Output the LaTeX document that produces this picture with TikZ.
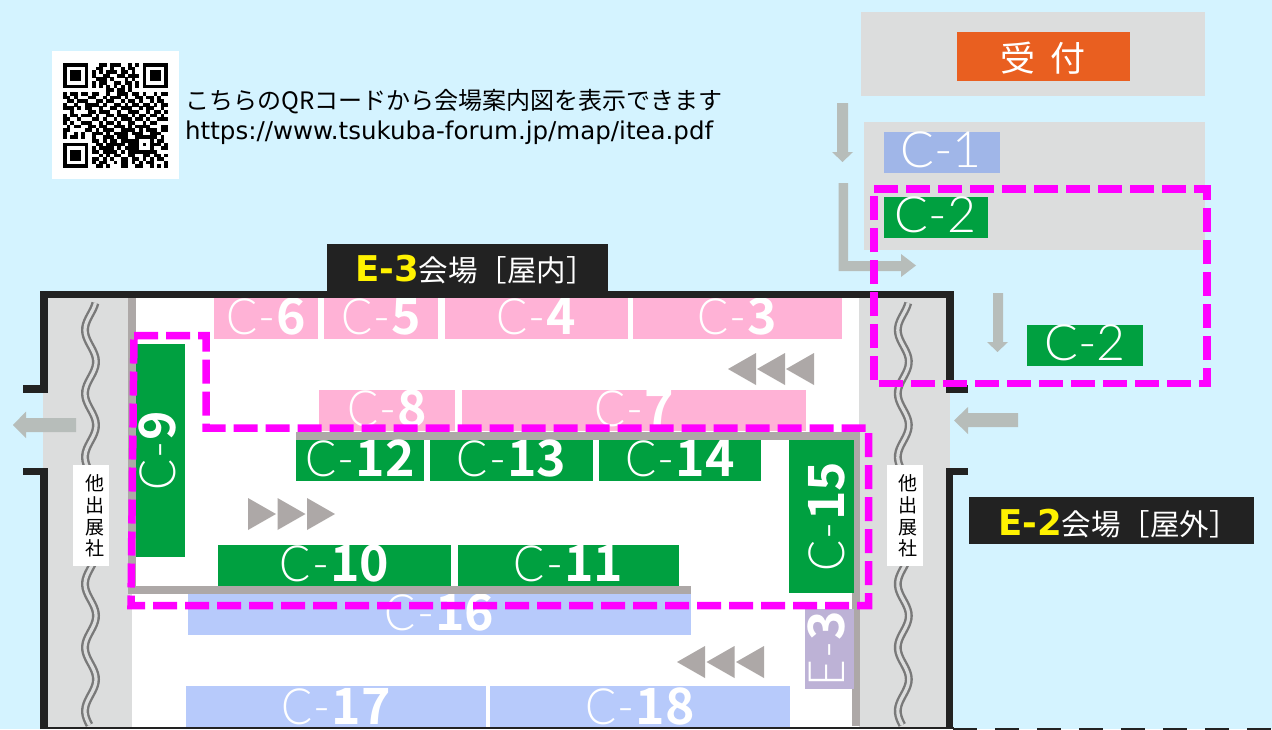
\documentclass[tikz,border=0pt]{standalone}
\usepackage{fontspec}
\setmainfont{Noto Sans CJK JP}
\newfontfamily\thinf[FakeStretch=0.92]{Lato Light}
\newfontfamily\thinw{Lato Light}
\newfontfamily\boldf{Noto Sans CJK JP Bold}
\newfontfamily\urlf{DejaVu Sans}
\definecolor{sky}{HTML}{D4F3FF}
\definecolor{hall}{HTML}{DCDDDD}
\definecolor{wall}{HTML}{ADA8A7}
\definecolor{ink}{HTML}{222222}
\definecolor{arrowg}{HTML}{B7BDBA}
\definecolor{orng}{HTML}{E95F20}
\definecolor{grn}{HTML}{00A040}
\definecolor{pnk}{HTML}{FFB2D6}
\definecolor{blu}{HTML}{B7CAFB}
\definecolor{blud}{HTML}{A0B6E8}
\definecolor{prp}{HTML}{BDB2D6}
\definecolor{mag}{HTML}{FF00FF}
\tikzset{
  hallfill/.style={fill=hall},
  wallfill/.style={fill=wall},
  inkfill/.style={fill=ink},
  arrowfill/.style={fill=arrowg},
  tri/.style={fill=wall},
  route/.style={draw=mag,line width=7.5pt,dash pattern=on 24pt off 8pt,line cap=butt},
  ztext/.style={inner sep=0pt,text=white,text depth=0pt},
  vlabel/.style={inner sep=0pt,text=black,align=center,font=\fontsize{19}{21.8}\selectfont},
  wavy/.style={draw=gray!95!black,line width=8pt},
  wavyin/.style={draw=hall,line width=3.2pt},
  hallname/.style={anchor=base west,inner sep=0pt,text=white,font=\fontsize{29.5}{30}\selectfont}
}
\newcommand{\zlabel}[2]{{\thinf\fontsize{50}{50}\selectfont C}\kern1pt{\thinf\fontsize{50}{50}\selectfont -}\kern1pt{\boldf\fontsize{50}{50}\selectfont #2}}
\newcommand{\hzone}[7]{% name x1 y1 x2 y2 color content
  \fill[#6] (#2,#3) rectangle (#4,#5);
  \node[ztext,anchor=base] (#1) at ({(#2+#4)/2},{#5-5}) {#7};}
\newcommand{\vzone}[7]{% name x1 y1 x2 y2 color content
  \fill[#6] (#2,#3) rectangle (#4,#5);
  \node[ztext,anchor=base,rotate=90] (#1) at ({#4-10},{(#3+#5)/2}) {#7};}
\newcommand{\thinlabel}[1]{{\thinw\fontsize{50}{50}\selectfont #1}}
\newcommand{\eyellow}[1]{{\urlf\bfseries\fontsize{35.5}{36}\selectfont\textcolor{yellow}{#1}}}
\newcount\qx
\def\qrparse#1{\ifx#1;\else\if#11\fill[black] ({63+3.62*\the\qx},{63+3.62*\qrow}) rectangle ++(3.7,3.7);\fi\advance\qx by 1 \expandafter\qrparse\fi}
\newcommand{\qrrow}[2]{\def\qrow{#1}\qx=0 \qrparse#2;}
\begin{document}
\begin{tikzpicture}[x=1pt,y=-1pt]
\useasboundingbox (0,0) rectangle (1272,729);
\clip (0,0) rectangle (1272,729);
\fill[sky] (0,0) rectangle (1272,729);
% reception block
\fill[hallfill] (861,12) rectangle (1205,96);
\fill[hallfill] (864,122) rectangle (1205,250);
\fill[orng] (957,32) rectangle (1130,81);
\node[inner sep=0pt,text=white,font=\fontsize{35}{35}\selectfont] (uketsuke) at (1043,58) {受\kern15pt 付};
\fill[blud] (884,132) rectangle (1000,173);
\node[ztext,anchor=base] (c1) at (941,167) {\thinlabel{C-1}};
\fill[grn] (884,197) rectangle (988,238);
\node[ztext,anchor=base] (c2a) at (935.5,232) {\thinlabel{C-2}};
\fill[grn] (1027,325) rectangle (1143,366);
\node[ztext,anchor=base] (c2b) at (1085,360) {\thinlabel{C-2}};
% flow arrows outside
\fill[arrowfill] (837,103) -- (848,103) -- (848,152) -- (853,152) -- (842.5,162) -- (832,152) -- (837,152) -- cycle;
\fill[arrowfill] (838.5,183) -- (848,183) -- (848,261) -- (901,261) -- (901,254) -- (916,265.5) -- (901,277) -- (901,271) -- (838.5,271) -- cycle;
\fill[arrowfill] (993,293) -- (1003,293) -- (1003,342) -- (1008,342) -- (997.5,352) -- (987,342) -- (993,342) -- cycle;
% QR
\fill[white] (52,51) rectangle (179,179);
\qrrow{0}{11111110001101110010101111111}
\qrrow{1}{10000010011001001011001000001}
\qrrow{2}{10111010101011101101001011101}
\qrrow{3}{10111010100110011011101011101}
\qrrow{4}{10111010011101000101001011101}
\qrrow{5}{10000010101100110110101000001}
\qrrow{6}{11111110101010101010101111111}
\qrrow{7}{00000000000011011010000000000}
\qrrow{8}{10110110110010011101101001011}
\qrrow{9}{11010001100101110100110110100}
\qrrow{10}{01101110011011001011010010110}
\qrrow{11}{10010011110100110101101101011}
\qrrow{12}{11101011001001101110010110010}
\qrrow{13}{00100001101110010011100101101}
\qrrow{14}{10110111010011011101011011010}
\qrrow{15}{11001000110100101110110100111}
\qrrow{16}{10100111001011010011001011000}
\qrrow{17}{01011001101100111010111100011}
\qrrow{18}{11000011010111001111010111011}
\qrrow{19}{10010100111010111101110011100}
\qrrow{20}{10110100100111011100111111010}
\qrrow{21}{00000000110101101111100010110}
\qrrow{22}{11111110011011111011101011101}
\qrrow{23}{10000010101111010111100010011}
\qrrow{24}{10111010110111101011111111000}
\qrrow{25}{10111010001010110011001101101}
\qrrow{26}{10111010110101001101101010110}
\qrrow{27}{10000010101100101101010110001}
\qrrow{28}{11111110011010001100110010101}
\node[anchor=west,inner sep=0pt,text=black,font=\fontsize{24}{25}\selectfont] (qrline) at (185,102) {こちらのQRコードから会場案内図を表示できます};
\node[anchor=west,inner sep=0pt,text=black,font=\urlf\fontsize{24.5}{25}\selectfont] (qrurl) at (185,133) {https://www.tsukuba-forum.jp/map/itea.pdf};
% building
\fill[white] (48,298) rectangle (946,729);
\fill[hallfill] (48,298) rectangle (132,729);
\fill[hallfill] (43,392) rectangle (48,468);
\fill[hallfill] (859,298) rectangle (946,729);
\fill[hallfill] (946,392) rectangle (950,468);
% zones
\hzone{c6}{214}{298}{318}{339}{pnk}{\zlabel{}{6}}
\hzone{c5}{324}{298}{438}{339}{pnk}{\zlabel{}{5}}
\hzone{c4}{445}{298}{628}{339}{pnk}{\zlabel{}{4}}
\hzone{c3}{633}{298}{842}{339}{pnk}{\zlabel{}{3}}
\hzone{c8}{319}{390}{455}{431}{pnk}{\zlabel{}{8}}
\hzone{c7}{462}{390}{806}{431}{pnk}{\zlabel{}{7}}
\hzone{c16}{188}{594}{691}{635}{blu}{\zlabel{}{16}}
\hzone{c17}{186}{686}{486}{729}{blu}{\zlabel{}{17}}
\hzone{c18}{490}{686}{790}{729}{blu}{\zlabel{}{18}}
% gray partitions
\fill[wallfill] (128,298) rectangle (135.5,594);
\fill[wallfill] (128,586) rectangle (691,594);
\fill[wallfill] (296,432) rectangle (860,440);
\fill[wallfill] (852,432) rectangle (860,726);
\hzone{c12}{296}{440}{424}{481}{grn}{\zlabel{}{12}}
\hzone{c13}{430}{440}{593}{481}{grn}{\zlabel{}{13}}
\hzone{c14}{599}{440}{761}{481}{grn}{\zlabel{}{14}}
\hzone{c10}{218}{545}{451}{586}{grn}{\zlabel{}{10}}
\hzone{c11}{458}{545}{679}{586}{grn}{\zlabel{}{11}}
\vzone{c9}{136}{344}{185}{557}{grn}{\zlabel{}{9}}
\vzone{c15}{789}{440}{854}{593}{grn}{\zlabel{}{15}}
\vzone{e3}{805}{609}{854}{689}{prp}{{\thinf\fontsize{50}{50}\selectfont E}\kern1pt{\thinf\fontsize{50}{50}\selectfont -}\kern1pt{\boldf\fontsize{50}{50}\selectfont 3}}
% direction triangles
\foreach \tx in {728,757,786} \fill[tri] (\tx,369) -- (\tx+28,353) -- (\tx+28,385) -- cycle;
\foreach \tx in {248,277.5,307} \fill[tri] (\tx,498) -- (\tx+28,514) -- (\tx,530) -- cycle;
\foreach \tx in {677,706.5,736} \fill[tri] (\tx,662) -- (\tx+28,646) -- (\tx+28,678) -- cycle;
% wavy lines
\foreach \cx in {90.5,903.3} {
  \draw[wavy] plot[domain=303:725,samples=140,smooth] ({\cx-5.5*cos((\x-330)/63.5*360)},\x);
  \draw[wavyin] plot[domain=303:725,samples=140,smooth] ({\cx-5.5*cos((\x-330)/63.5*360)},\x);
}
\fill[white] (73,465) rectangle (109,566);
\node[vlabel] (oth1) at (94.5,516) {他\\出\\展\\社};
\fill[white] (887,465) rectangle (923,566);
\node[vlabel] (oth2) at (907.7,516) {他\\出\\展\\社};
% exit arrows
\fill[arrowfill] (76,418) -- (26,418) -- (26,411.5) -- (13,425) -- (26,438) -- (26,432) -- (76,432) -- cycle;
\fill[arrowfill] (1018,413) -- (968,413) -- (968,407) -- (954,420.5) -- (968,434) -- (968,427) -- (1018,427) -- cycle;
% outer walls
\fill[inkfill] (40,291) rectangle (954,298);
\fill[inkfill] (40,291) rectangle (48,393);
\fill[inkfill] (23,385) rectangle (48,393);
\fill[inkfill] (23,468) rectangle (48,475);
\fill[inkfill] (40,468) rectangle (48,729);
\fill[inkfill] (946,291) rectangle (954,393);
\fill[inkfill] (946,385) rectangle (968,393);
\fill[inkfill] (946,468) rectangle (968,475);
\fill[inkfill] (946,468) rectangle (953,729);
\fill[inkfill] (40,726.5) rectangle (954,729);
\draw[ink,line width=3pt,dash pattern=on 24pt off 18pt] (953,729) -- (1272,729);
% hall titles
\fill[ink] (327,244) rectangle (608,291);
\node[hallname] (t3) at (355,281.5) {\eyellow{E-3}会場［屋内］};
\fill[ink] (969,497) rectangle (1254,544);
\node[hallname] (t2) at (998,535) {\eyellow{E-2}会場［屋外］};
% dashed route outlines
\draw[route] (874,189) -- (1207,189) -- (1207,383.5) -- (874,383.5) -- cycle;
\draw[route] (134,335.5) -- (206,335.5) -- (206,428) -- (868.5,428) -- (868.5,605.5) -- (131,605.5) -- cycle;
\end{tikzpicture}
\end{document}
